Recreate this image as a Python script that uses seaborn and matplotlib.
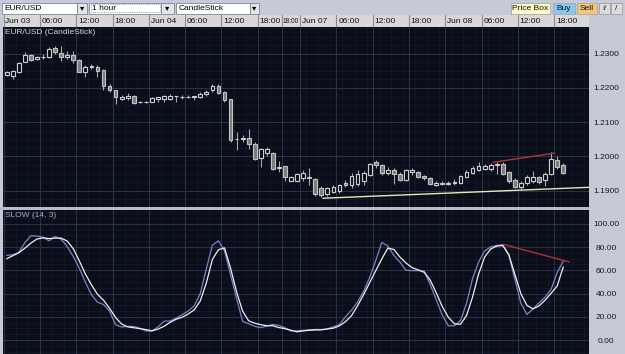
import matplotlib
matplotlib.use("Agg")
import matplotlib.pyplot as plt
import seaborn as sns
import pandas as pd
from matplotlib.patches import Rectangle

# ---------------- data ----------------
bar_idx = list(range(93))
open_ = [1.2238, 1.2236, 1.2248, 1.2276, 1.2295, 1.2284, 1.2289, 1.2289, 1.2317, 1.2303,
         1.2291, 1.2297, 1.2283, 1.2248, 1.2262, 1.2262, 1.2252, 1.2205, 1.2193, 1.2168,
         1.2170, 1.2178, 1.2158, 1.2159, 1.2160, 1.2168, 1.2168, 1.2168, 1.2176, 1.2175,
         1.2175, 1.2175, 1.2174, 1.2181, 1.2193, 1.2205, 1.2187, 1.2168, 1.2050, 1.2052,
         1.2053, 1.2035, 1.1996, 1.2009, 1.2009, 1.1966, 1.1972, 1.1929, 1.1929, 1.1936,
         1.1939, 1.1933, 1.1908, 1.1890, 1.1896, 1.1899, 1.1924, 1.1918, 1.1921, 1.1927,
         1.1945, 1.1985, 1.1976, 1.1951, 1.1960, 1.1948, 1.1930, 1.1954, 1.1954, 1.1942,
         1.1936, 1.1918, 1.1924, 1.1921, 1.1924, 1.1922, 1.1939, 1.1953, 1.1960, 1.1964,
         1.1962, 1.1976, 1.1979, 1.1954, 1.1931, 1.1911, 1.1922, 1.1927, 1.1939, 1.1930,
         1.1948, 1.1991, 1.1974]
high = [1.2250, 1.2252, 1.2277, 1.2305, 1.2298, 1.2292, 1.2298, 1.2319, 1.2323, 1.2323,
        1.2307, 1.2307, 1.2285, 1.2268, 1.2270, 1.2266, 1.2254, 1.2211, 1.2195, 1.2180,
        1.2184, 1.2180, 1.2162, 1.2162, 1.2173, 1.2175, 1.2180, 1.2182, 1.2178, 1.2180,
        1.2180, 1.2177, 1.2187, 1.2193, 1.2213, 1.2213, 1.2191, 1.2169, 1.2072, 1.2064,
        1.2080, 1.2041, 1.2025, 1.2027, 1.2013, 1.1986, 1.1973, 1.1943, 1.1953, 1.1960,
        1.1967, 1.1936, 1.1915, 1.1911, 1.1918, 1.1921, 1.1930, 1.1951, 1.1960, 1.1957,
        1.1982, 1.1991, 1.1979, 1.1970, 1.1967, 1.1954, 1.1964, 1.1967, 1.1957, 1.1945,
        1.1939, 1.1927, 1.1927, 1.1927, 1.1933, 1.1945, 1.1960, 1.1973, 1.1985, 1.1979,
        1.1982, 1.1985, 1.1985, 1.1957, 1.1936, 1.1927, 1.1945, 1.1957, 1.1942, 1.1954,
        1.2013, 1.2000, 1.1982]
low = [1.2234, 1.2225, 1.2244, 1.2275, 1.2279, 1.2283, 1.2286, 1.2287, 1.2298, 1.2279,
       1.2285, 1.2274, 1.2246, 1.2231, 1.2255, 1.2231, 1.2194, 1.2187, 1.2154, 1.2164,
       1.2166, 1.2154, 1.2155, 1.2156, 1.2159, 1.2158, 1.2160, 1.2166, 1.2160, 1.2169,
       1.2170, 1.2164, 1.2170, 1.2178, 1.2189, 1.2182, 1.2160, 1.2041, 1.2019, 1.2041,
       1.2023, 1.1990, 1.1970, 1.2000, 1.1960, 1.1955, 1.1927, 1.1927, 1.1927, 1.1929,
       1.1918, 1.1884, 1.1882, 1.1884, 1.1893, 1.1893, 1.1911, 1.1908, 1.1915, 1.1918,
       1.1942, 1.1967, 1.1945, 1.1945, 1.1921, 1.1927, 1.1927, 1.1945, 1.1936, 1.1930,
       1.1918, 1.1915, 1.1918, 1.1918, 1.1918, 1.1921, 1.1936, 1.1948, 1.1957, 1.1960,
       1.1957, 1.1948, 1.1945, 1.1924, 1.1908, 1.1905, 1.1918, 1.1924, 1.1921, 1.1915,
       1.1945, 1.1964, 1.1948]
close = [1.2246, 1.2250, 1.2274, 1.2295, 1.2282, 1.2290, 1.2291, 1.2315, 1.2305, 1.2291,
         1.2297, 1.2283, 1.2248, 1.2262, 1.2264, 1.2250, 1.2205, 1.2193, 1.2175, 1.2174,
         1.2178, 1.2156, 1.2160, 1.2159, 1.2172, 1.2174, 1.2176, 1.2178, 1.2177, 1.2175,
         1.2175, 1.2176, 1.2182, 1.2189, 1.2205, 1.2184, 1.2164, 1.2049, 1.2052, 1.2055,
         1.2035, 1.1994, 1.2022, 1.2023, 1.1964, 1.1968, 1.1939, 1.1941, 1.1949, 1.1951,
         1.1936, 1.1890, 1.1887, 1.1908, 1.1911, 1.1918, 1.1916, 1.1942, 1.1948, 1.1951,
         1.1979, 1.1976, 1.1951, 1.1960, 1.1948, 1.1930, 1.1960, 1.1960, 1.1939, 1.1936,
         1.1919, 1.1924, 1.1919, 1.1924, 1.1925, 1.1942, 1.1956, 1.1967, 1.1973, 1.1973,
         1.1974, 1.1977, 1.1948, 1.1928, 1.1911, 1.1924, 1.1939, 1.1940, 1.1925, 1.1950,
         1.1994, 1.1970, 1.1951]

stoch_k = [72.8, 73.3, 75.3, 83.7, 89.8, 89.4, 88.5, 85.4, 89.0, 86.8,
           80.4, 71.9, 61.8, 49.8, 39.1, 32.6, 30.6, 24.9, 13.2, 11.2,
           11.8, 11.7, 10.2, 7.8, 7.8, 11.2, 16.2, 16.4, 18.8, 21.8,
           24.9, 29.6, 40.0, 61.3, 81.6, 85.3, 76.8, 56.3, 35.7, 16.0,
           14.0, 11.8, 10.7, 12.0, 13.4, 12.6, 10.5, 7.8, 7.9, 8.3,
           8.8, 9.1, 9.0, 9.6, 11.4, 13.4, 20.0, 25.7, 32.7, 42.0,
           53.8, 68.4, 84.0, 81.0, 72.7, 67.1, 60.0, 59.7, 59.7, 59.4,
           47.8, 34.7, 21.3, 12.3, 12.3, 16.6, 31.4, 52.8, 67.1, 76.6,
           80.1, 81.4, 82.0, 73.2, 52.1, 31.5, 22.0, 26.8, 32.0, 36.8,
           43.8, 58.2, 68.0]
stoch_d = [69.9, 72.5, 75.1, 79.0, 83.4, 86.9, 87.9, 87.3, 87.7, 87.7,
           85.2, 78.6, 68.2, 56.9, 47.6, 39.4, 34.3, 27.3, 19.4, 13.8,
           11.3, 10.6, 9.8, 9.0, 7.9, 9.4, 11.8, 15.2, 17.9, 19.6,
           22.4, 26.0, 33.7, 49.1, 69.4, 77.7, 79.3, 61.9, 41.4, 24.8,
           16.5, 14.5, 13.2, 12.3, 12.3, 10.7, 9.8, 8.4, 7.1, 7.9,
           8.4, 8.7, 8.8, 9.5, 10.2, 12.2, 15.8, 21.0, 29.5, 39.1,
           49.4, 59.7, 69.8, 79.1, 77.9, 71.4, 66.3, 62.3, 60.4, 58.3,
           51.6, 40.7, 28.8, 19.6, 14.0, 13.5, 21.0, 36.9, 56.8, 71.4,
           78.3, 80.8, 81.3, 73.4, 56.4, 39.7, 29.8, 26.8, 29.4, 34.3,
           40.3, 46.6, 63.0]

price_ticks = [1.19, 1.20, 1.21, 1.22, 1.23]
price_labels = ["1.1900", "1.2000", "1.2100", "1.2200", "1.2300"]
osc_ticks = [0, 20, 40, 60, 80, 100]
osc_labels = ["0.00", "20.00", "40.00", "60.00", "80.00", "100.00"]
time_tick_idx = [0, 6, 12, 18, 24, 30, 36, 42, 46, 49, 55, 61, 67, 73, 79, 85, 91]
time_labels = ["Jun 03", "06:00", "12:00", "18:00", "Jun 04", "06:00", "12:00", "18:00",
               "18:00", "Jun 07", "06:00", "12:00", "18:00", "Jun 08", "06:00", "12:00", "18:00"]

# drawn trend lines (bar index, value)
support_x = [52.2, 96.25]
support_y = [1.1878, 1.1910]
resist_x = [80.4, 90.6]
resist_y = [1.1983, 1.2010]
osc_div_x = [82.1, 93.0]
osc_div_y = [82.3, 67.1]

# ---------------- style ----------------
sns.set_style("dark")
plt.rcParams["font.family"] = ["Liberation Sans", "DejaVu Sans"]

W, H = 625, 354
PANEL = "#0a0e1b"
GRID = "#2a3142"
MINOR = "#151b2a"
CHROME = "#c6cad6"
XLIM = (-0.61, 96.25)

fig = plt.figure(figsize=(W / 100, H / 100), dpi=100)
fig.patch.set_facecolor(CHROME)

# chrome axes in pixel coordinates
bg = fig.add_axes([0, 0, 1, 1])
bg.set_xlim(0, W)
bg.set_ylim(H, 0)
bg.axis("off")
bg.set_zorder(-5)


def rect(x0, y0, x1, y1, fc, ec="none", lw=0.6, ls="-"):
    bg.add_patch(Rectangle((x0, y0), x1 - x0, y1 - y0, facecolor=fc, edgecolor=ec,
                           linewidth=lw, linestyle=ls))


FS = 6.0
# drop-downs
for (x0, x1, xa, label) in [(2, 77, 87, "EUR/USD"), (89, 161, 174, "1 hour"),
                            (176, 250, 259, "CandleStick")]:
    rect(x0, 2.5, x1, 13.5, "white", "#7d879c")
    bg.text(x0 + 2.5, 8.3, label, fontsize=FS, va="center", ha="left", color="#000000")
    rect(x1, 2.5, xa, 13.5, "#e4e4e4", "#7d879c")
    bg.text((x1 + xa) / 2, 8.5, "\u25BE", fontsize=6, va="center", ha="center", color="#000000")
rect(90.5, 4, 159.5, 12, "none", "#606060", lw=0.5, ls=":")

# right buttons
for (x0, x1, fc, label) in [(511, 550, "#fff8c8", "Price Box"), (553, 575, "#86c8f2", "Buy"),
                            (577, 597, "#f6c47c", "Sell")]:
    rect(x0, 3, x1, 13.5, fc, "#a8a8a8")
    bg.text((x0 + x1) / 2, 8.4, label, fontsize=FS, va="center", ha="center", color="#101010")
rect(599, 3, 610, 13.5, "#dcdcdc", "#a0a0a0")
rect(611, 3, 622, 13.5, "#dcdcdc", "#a0a0a0")
bg.text(604.5, 8.4, "\u0131/", fontsize=5.5, va="center", ha="center", color="#202020")
bg.text(616.5, 8.4, "/", fontsize=6, va="center", ha="center", color="#202020")

# separator between panels
rect(0, 207, 589, 209.5, "#b8bcc8")

# ---------------- header (time axis) ----------------
head = fig.add_axes([3 / W, 1 - 27 / H, 586 / W, 12 / H])
head.set_facecolor("#d8d8d8")
head.set_xlim(*XLIM)
head.set_ylim(0, 1)
head.set_xticks([])
head.set_yticks([])
for s in head.spines.values():
    s.set_visible(False)
edges = [i - 0.5 for i in time_tick_idx] + [XLIM[1]]
for n, (i, lab) in enumerate(zip(time_tick_idx, time_labels)):
    head.axvline(i - 0.5, color="#8c8c8c", lw=0.8)
    seg_w = edges[n + 1] - edges[n]
    narrow = seg_w < 3.5
    fs = 4.7 if narrow else FS
    off = 0.12 if narrow else 0.3
    t = head.text(i - 0.5 + off, 0.45, lab, fontsize=fs, va="center", ha="left",
                  color="#101010")
    seg = Rectangle((edges[n], 0), seg_w - 0.1, 1,
                    transform=head.transData, facecolor="none", edgecolor="none")
    head.add_patch(seg)
    t.set_clip_path(seg)

# ---------------- price panel ----------------
main = fig.add_axes([3 / W, 1 - 207 / H, 586 / W, 180 / H])
main.set_facecolor(PANEL)
main.set_xlim(*XLIM)
main.set_ylim(1.18525, 1.2378)
for s in main.spines.values():
    s.set_visible(False)

# grid
for k in range(0, 97, 2):
    main.axvline(k - 0.5, color=MINOR, lw=0.5, zorder=0)
for p in [1.1875 + 0.0025 * j for j in range(21)]:
    main.axhline(p, color=MINOR, lw=0.5, zorder=0)
for i in time_tick_idx:
    main.axvline(i - 0.5, color=GRID, lw=0.8, zorder=1)
for p in price_ticks:
    main.axhline(p, color=GRID, lw=0.8, zorder=1)

df = pd.DataFrame({"idx": bar_idx, "open": open_, "high": high, "low": low, "close": close})
df["up"] = df["close"] >= df["open"]
df["body_lo"] = df[["open", "close"]].min(axis=1)
df["body_h"] = (df["close"] - df["open"]).abs()

main.vlines(df["idx"], df["low"], df["high"], color="#a8a8a8", lw=0.8, zorder=3)
up = df[df["up"]]
dn = df[~df["up"]]
main.bar(up["idx"], up["body_h"], bottom=up["body_lo"], width=0.62, facecolor=PANEL,
         edgecolor="#cfcfcf", linewidth=0.8, zorder=4)
main.bar(dn["idx"], dn["body_h"], bottom=dn["body_lo"], width=0.62, facecolor="#7c7c7c",
         edgecolor="#c4c4c4", linewidth=0.8, zorder=4)

main.plot(support_x, support_y, color="#e6e6b4", lw=1.0, zorder=5, solid_capstyle="butt")
main.plot(resist_x, resist_y, color="#a83a3a", lw=1.0, zorder=5)

main.set_yticks(price_ticks)
main.set_yticklabels(price_labels)
main.set_xticks([])
main.yaxis.tick_right()
main.tick_params(axis="y", length=0, pad=12.3, labelsize=FS, labelcolor="#1a1a1a")
for lbl in main.get_yticklabels():
    lbl.set_horizontalalignment("center")
main.text(0.003, 0.99, "EUR/USD (CandleStick)", transform=main.transAxes, fontsize=FS,
          va="top", ha="left", color="#d4d8e4")

# ---------------- oscillator panel ----------------
low_ax = fig.add_axes([3 / W, 0, 586 / W, 144.5 / H])
low_ax.set_facecolor(PANEL)
low_ax.set_xlim(*XLIM)
low_ax.set_ylim(-12, 112.3)
for s in low_ax.spines.values():
    s.set_visible(False)
for k in range(0, 97, 2):
    low_ax.axvline(k - 0.5, color=MINOR, lw=0.5, zorder=0)
for v in range(-10, 111, 5):
    low_ax.axhline(v, color=MINOR, lw=0.5, zorder=0)
for i in time_tick_idx:
    low_ax.axvline(i - 0.5, color=GRID, lw=0.8, zorder=1)
for v in osc_ticks:
    low_ax.axhline(v, color=GRID, lw=0.8, zorder=1)

osc = pd.DataFrame({"idx": bar_idx, "k": stoch_k, "d": stoch_d})
sns.lineplot(data=osc, x="idx", y="k", ax=low_ax, color="#7c84c8", lw=0.9, zorder=3)
sns.lineplot(data=osc, x="idx", y="d", ax=low_ax, color="#eeeef2", lw=0.9, zorder=4)
low_ax.plot(osc_div_x, osc_div_y, color="#b03232", lw=1.0, zorder=5)

low_ax.set_xlabel("")
low_ax.set_ylabel("")
low_ax.set_xticks([])
low_ax.set_yticks(osc_ticks)
low_ax.set_yticklabels(osc_labels)
low_ax.yaxis.tick_right()
low_ax.tick_params(axis="y", length=0, pad=12.3, labelsize=FS, labelcolor="#1a1a1a")
for lbl in low_ax.get_yticklabels():
    lbl.set_horizontalalignment("center")
low_ax.text(0.003, 0.985, "SLOW (14, 3)", transform=low_ax.transAxes, fontsize=FS,
            va="top", ha="left", color="#aab2d2")

fig.savefig("out.png", dpi=100, facecolor=fig.get_facecolor())
